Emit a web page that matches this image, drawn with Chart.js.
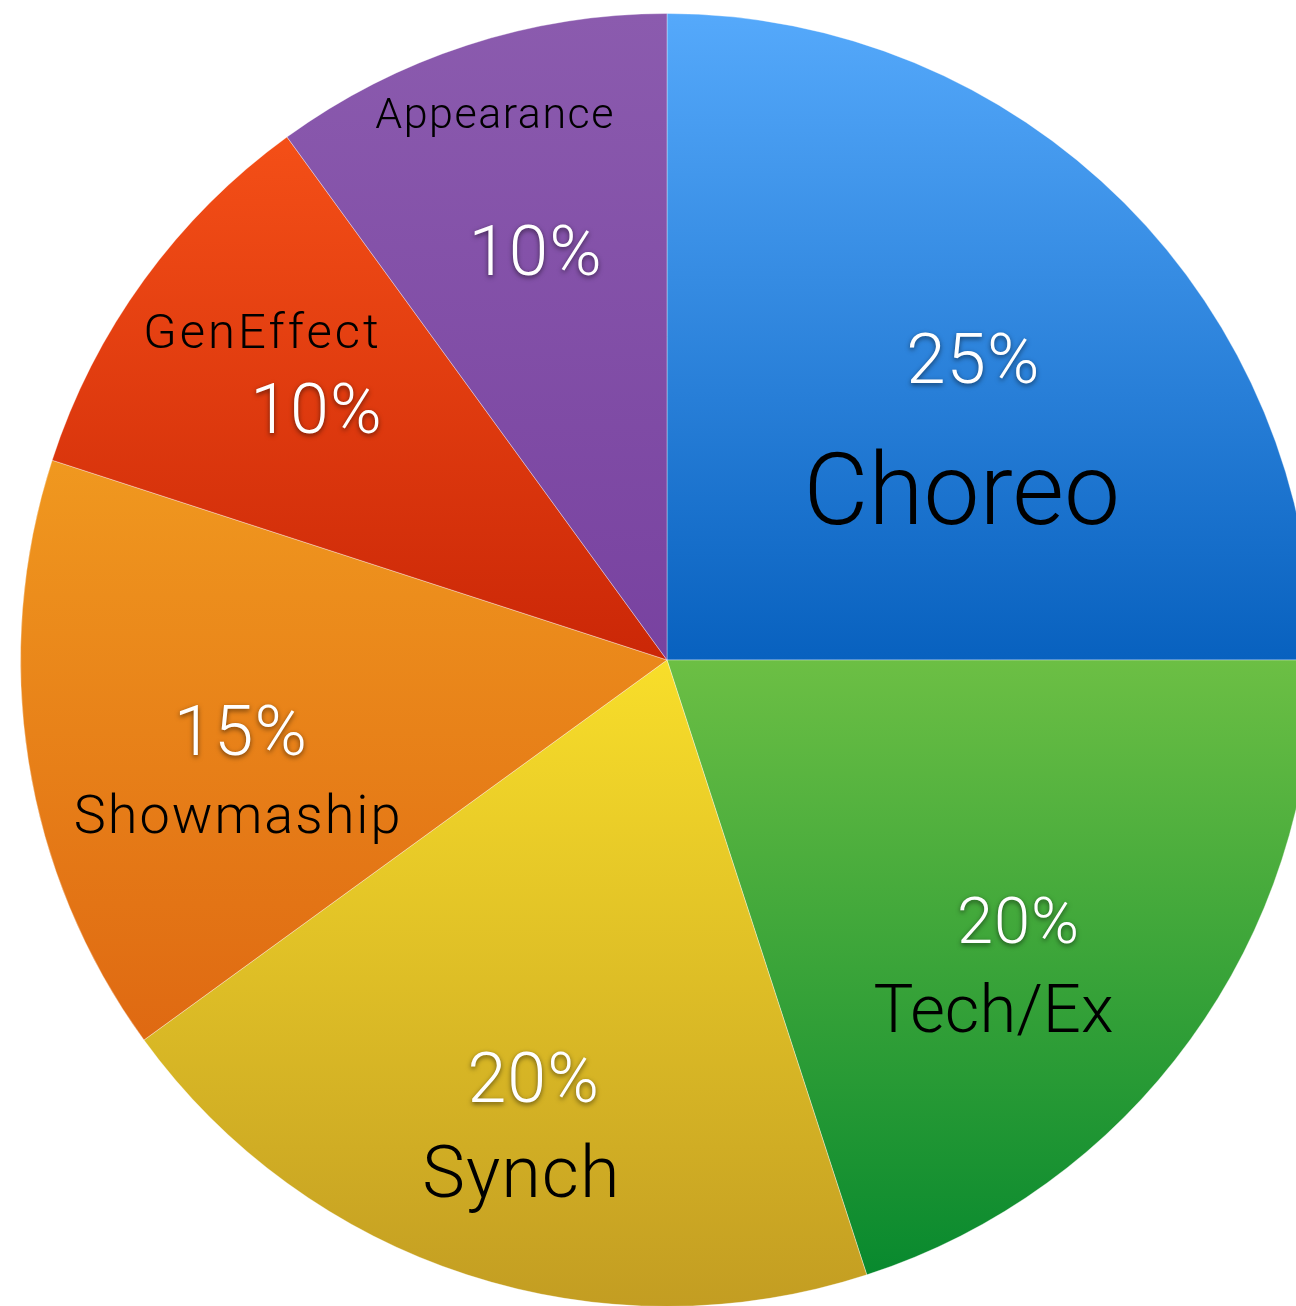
<!DOCTYPE html>
<html>
<head>
<meta charset="utf-8">
<title>Pie</title>
<script src="https://cdn.jsdelivr.net/npm/chart.js@4/dist/chart.umd.min.js"></script>
<style>
  html, body { margin: 0; padding: 0; overflow: hidden; background: #fff; }
  #wrap { width: 1334px; height: 1320px; }
</style>
</head>
<body>
<div id="wrap"><canvas id="pie" width="1334" height="1320"></canvas></div>
<script>
// Data (clockwise from 12 o'clock)
const categories = ['Choreo', 'Tech/Ex', 'Synch', 'Showmaship', 'GenEffect', 'Appearance'];
const shares = [25, 20, 20, 15, 10, 10];

// gradient colours per slice: top -> bottom
const topColors = ['#55a9fb', '#6cbf44', '#f8de2a', '#f0981f', '#f44f17', '#8b5bae'];
const bottomColors = ['#0861bf', '#08892e', '#c39d22', '#df6912', '#cb2707', '#7842a0'];

// label placement, relative to centre in units of the radius: [dx, dy, font px, letter spacing px]
const labelLayout = [
  { pct: [0.473, -0.468, 71, 1], name: [0.456, -0.266, 100, 0] },
  { pct: [0.543, 0.402, 65, 1], name: [0.505, 0.539, 67, 0] },
  { pct: [-0.207, 0.645, 70, 1], name: [-0.226, 0.791, 72, 1] },
  { pct: [-0.660, 0.108, 71, 1], name: [-0.665, 0.238, 54, 2] },
  { pct: [-0.543, -0.389, 70, 1], name: [-0.628, -0.510, 49, 3] },
  { pct: [-0.204, -0.634, 71, 1], name: [-0.267, -0.847, 43, 1.5] }
];

const FONT = 'Roboto, "Liberation Sans", sans-serif';

// vertical extent of a sector, for the per-slice gradient
function sectorYRange(arc) {
  const ys = [arc.y, arc.y + arc.outerRadius * Math.sin(arc.startAngle), arc.y + arc.outerRadius * Math.sin(arc.endAngle)];
  const twoPi = Math.PI * 2;
  [-Math.PI / 2, Math.PI / 2].forEach(a => {
    let t = a;
    while (t < arc.startAngle) t += twoPi;
    if (t <= arc.endAngle) ys.push(arc.y + arc.outerRadius * Math.sin(a));
  });
  return [Math.min(...ys), Math.max(...ys)];
}

const gradientPlugin = {
  id: 'sliceGradient',
  beforeDatasetsDraw(chart) {
    const ctx = chart.ctx;
    chart.getDatasetMeta(0).data.forEach((arc, i) => {
      const [y0, y1] = sectorYRange(arc);
      const g = ctx.createLinearGradient(0, y0, 0, y1);
      g.addColorStop(0, topColors[i]);
      g.addColorStop(1, bottomColors[i]);
      arc.options = Object.assign({}, arc.options, { backgroundColor: g });
    });
  }
};

// text centred on (x, y) using the cap height, not the em box
function drawCentered(ctx, text, x, y, size, spacing) {
  ctx.font = '300 ' + size + 'px ' + FONT;
  ctx.letterSpacing = spacing + 'px';
  ctx.textAlign = 'center';
  ctx.textBaseline = 'alphabetic';
  ctx.fillText(text, x + spacing / 2, y + size * 0.355);
}

const labelPlugin = {
  id: 'sliceLabels',
  afterDatasetsDraw(chart) {
    const ctx = chart.ctx;
    const total = shares.reduce((a, b) => a + b, 0);
    chart.getDatasetMeta(0).data.forEach((arc, i) => {
      const R = arc.outerRadius;
      const p = labelLayout[i].pct;
      const n = labelLayout[i].name;
      ctx.save();

      // percentage, white with soft shadow
      ctx.fillStyle = '#ffffff';
      ctx.shadowColor = 'rgba(0,0,0,0.55)';
      ctx.shadowBlur = 5;
      ctx.shadowOffsetY = 2;
      drawCentered(ctx, Math.round(shares[i] / total * 100) + '%', arc.x + p[0] * R, arc.y + p[1] * R, p[2], p[3]);

      // category name, black
      ctx.shadowColor = 'transparent';
      ctx.shadowBlur = 0;
      ctx.shadowOffsetY = 0;
      ctx.fillStyle = '#000000';
      drawCentered(ctx, categories[i], arc.x + n[0] * R, arc.y + n[1] * R, n[2], n[3]);
      ctx.restore();
    });
  }
};

new Chart(document.getElementById('pie'), {
  type: 'pie',
  data: {
    labels: categories,
    datasets: [{
      data: shares,
      backgroundColor: topColors,
      borderColor: 'rgba(255,255,255,0.35)',
      borderWidth: 1
    }]
  },
  options: {
    responsive: false,
    animation: false,
    layout: { padding: 13 },
    plugins: {
      legend: { display: false },
      tooltip: { enabled: false }
    }
  },
  plugins: [gradientPlugin, labelPlugin]
});
</script>
</body>
</html>
